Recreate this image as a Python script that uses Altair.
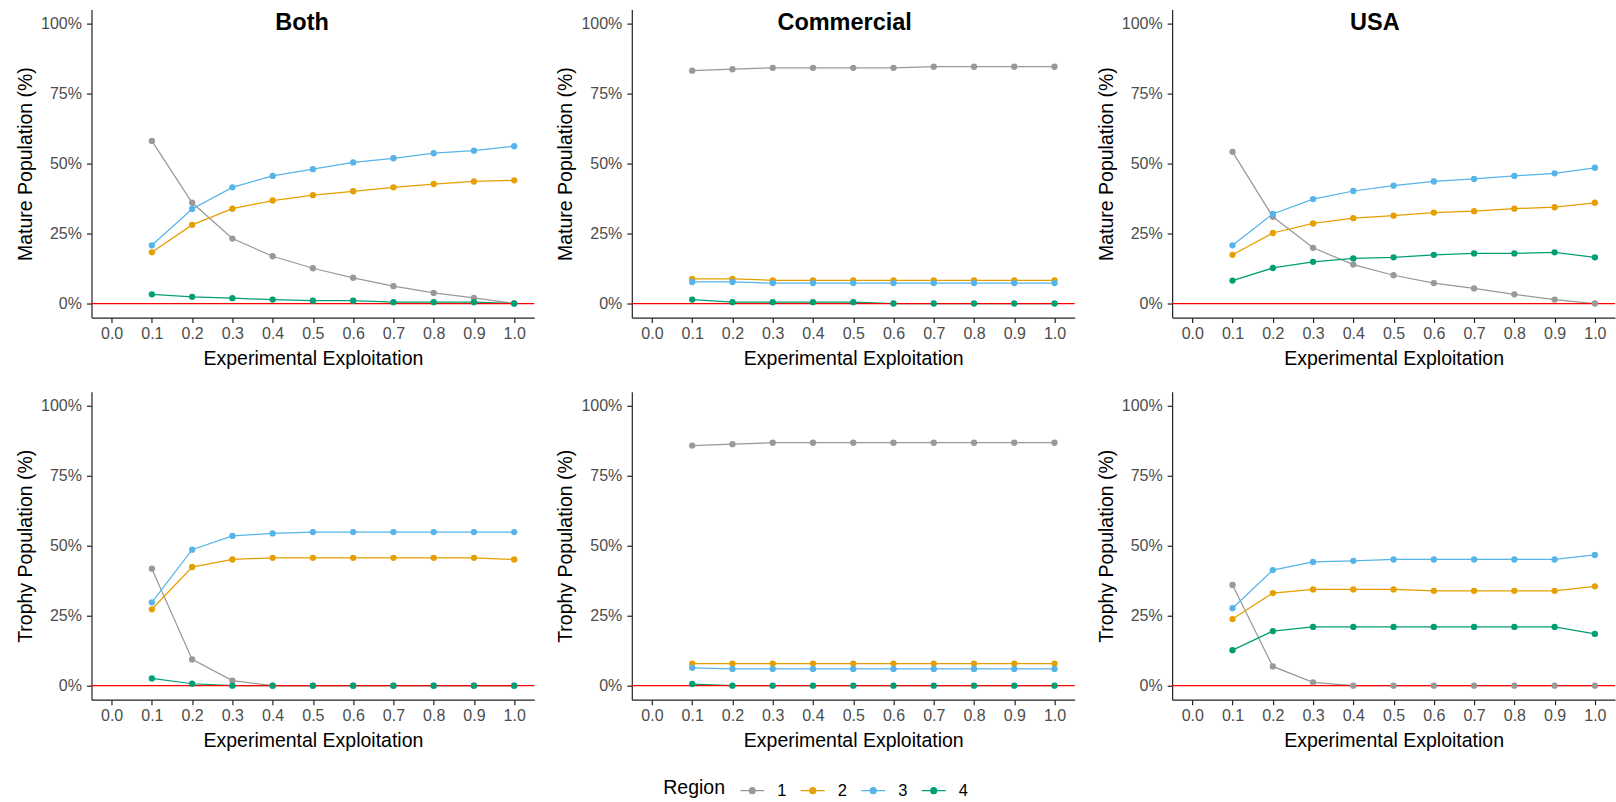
import altair as alt
import pandas as pd

# Experimental exploitation levels (x positions of every series)
exploitation = [0.1, 0.2, 0.3, 0.4, 0.5, 0.6, 0.7, 0.8, 0.9, 1.0]
x_ticks = [0.0, 0.1, 0.2, 0.3, 0.4, 0.5, 0.6, 0.7, 0.8, 0.9, 1.0]
y_ticks = [0.0, 0.25, 0.5, 0.75, 1.0]

regions = ["1", "2", "3", "4"]
region_colors = ["#999999", "#E69F00", "#56B4E9", "#009E73"]

scenarios = ["Both", "Commercial", "USA"]
metrics = ["Mature", "Trophy"]

# Share of the mature population found in each region
both_mature_r1 = [0.581, 0.360, 0.232, 0.169, 0.126, 0.092, 0.062, 0.038, 0.020, 0.000]
both_mature_r2 = [0.183, 0.281, 0.339, 0.368, 0.387, 0.401, 0.415, 0.427, 0.436, 0.440]
both_mature_r3 = [0.208, 0.338, 0.415, 0.456, 0.480, 0.504, 0.519, 0.537, 0.546, 0.562]
both_mature_r4 = [0.033, 0.024, 0.019, 0.014, 0.010, 0.010, 0.005, 0.005, 0.005, 0.000]

commercial_mature_r1 = [0.832, 0.837, 0.842, 0.842, 0.842, 0.842, 0.846, 0.846, 0.846, 0.846]
commercial_mature_r2 = [0.088, 0.088, 0.083, 0.083, 0.083, 0.083, 0.083, 0.083, 0.083, 0.083]
commercial_mature_r3 = [0.077, 0.077, 0.073, 0.073, 0.073, 0.073, 0.073, 0.073, 0.073, 0.073]
commercial_mature_r4 = [0.014, 0.005, 0.005, 0.005, 0.005, 0.000, 0.000, 0.000, 0.000, 0.000]

usa_mature_r1 = [0.542, 0.310, 0.199, 0.139, 0.101, 0.073, 0.054, 0.033, 0.014, 0.000]
usa_mature_r2 = [0.174, 0.252, 0.286, 0.305, 0.314, 0.325, 0.330, 0.339, 0.344, 0.360]
usa_mature_r3 = [0.208, 0.320, 0.373, 0.402, 0.421, 0.436, 0.445, 0.456, 0.465, 0.485]
usa_mature_r4 = [0.082, 0.127, 0.149, 0.161, 0.165, 0.174, 0.179, 0.179, 0.183, 0.165]

# Share of the trophy population found in each region
both_trophy_r1 = [0.418, 0.094, 0.018, 0.000, 0.000, 0.000, 0.000, 0.000, 0.000, 0.000]
both_trophy_r2 = [0.273, 0.424, 0.451, 0.457, 0.457, 0.457, 0.457, 0.457, 0.457, 0.451]
both_trophy_r3 = [0.298, 0.486, 0.535, 0.544, 0.549, 0.549, 0.549, 0.549, 0.549, 0.549]
both_trophy_r4 = [0.026, 0.007, 0.000, 0.000, 0.000, 0.000, 0.000, 0.000, 0.000, 0.000]

commercial_trophy_r1 = [0.858, 0.863, 0.868, 0.868, 0.868, 0.868, 0.868, 0.868, 0.868, 0.868]
commercial_trophy_r2 = [0.079, 0.079, 0.079, 0.079, 0.079, 0.079, 0.079, 0.079, 0.079, 0.079]
commercial_trophy_r3 = [0.064, 0.060, 0.060, 0.060, 0.060, 0.060, 0.060, 0.060, 0.060, 0.060]
commercial_trophy_r4 = [0.006, 0.000, 0.000, 0.000, 0.000, 0.000, 0.000, 0.000, 0.000, 0.000]

usa_trophy_r1 = [0.360, 0.069, 0.012, 0.000, 0.000, 0.000, 0.000, 0.000, 0.000, 0.000]
usa_trophy_r2 = [0.238, 0.331, 0.344, 0.344, 0.344, 0.339, 0.339, 0.339, 0.339, 0.355]
usa_trophy_r3 = [0.277, 0.413, 0.442, 0.446, 0.451, 0.451, 0.451, 0.451, 0.451, 0.467]
usa_trophy_r4 = [0.127, 0.195, 0.210, 0.210, 0.210, 0.210, 0.210, 0.210, 0.210, 0.185]

series = {
    ("Both", "Mature"): [both_mature_r1, both_mature_r2, both_mature_r3, both_mature_r4],
    ("Commercial", "Mature"): [commercial_mature_r1, commercial_mature_r2, commercial_mature_r3, commercial_mature_r4],
    ("USA", "Mature"): [usa_mature_r1, usa_mature_r2, usa_mature_r3, usa_mature_r4],
    ("Both", "Trophy"): [both_trophy_r1, both_trophy_r2, both_trophy_r3, both_trophy_r4],
    ("Commercial", "Trophy"): [commercial_trophy_r1, commercial_trophy_r2, commercial_trophy_r3, commercial_trophy_r4],
    ("USA", "Trophy"): [usa_trophy_r1, usa_trophy_r2, usa_trophy_r3, usa_trophy_r4],
}

FONT = "Liberation Sans"
PANEL_W = 443
PANEL_H = 308
# horizontal placement of each panel heading inside its plot area
heading_x = {"Both": 210.7, "Commercial": 212.9, "USA": 202.8}


def ring(r):
    return f"M{r},0A{r},{r},0,1,1,{-r},0A{r},{r},0,1,1,{r},0"


# legend symbol: a short line with a solid dot (concentric rings) in the middle
line_dot = "M-1,0L1,0" + ring(0.24) + ring(0.16) + ring(0.08)

legend = alt.Legend(
    title="Region",
    orient="none",
    direction="horizontal",
    legendX=572,
    legendY=768,
    titleOrient="left",
    titleAnchor="middle",
    titleBaseline="middle",
    titleFontSize=19.5,
    titleFontWeight="normal",
    titleColor="black",
    titlePadding=14,
    labelFontSize=16.5,
    labelColor="black",
    labelOffset=12,
    columnPadding=10.5,
    symbolType=line_dot,
    symbolSize=576,
    symbolStrokeWidth=1.3,
    padding=0,
)


def panel(scenario, metric):
    rows = []
    for region, values in zip(regions, series[(scenario, metric)]):
        for x, v in zip(exploitation, values):
            rows.append({"exploitation": x, "share": v, "region": region})
    data = pd.DataFrame(rows)

    x_enc = alt.X(
        "exploitation:Q",
        scale=alt.Scale(domain=[-0.05, 1.05], nice=False, zero=False),
        axis=alt.Axis(values=x_ticks, format=".1f", title="Experimental Exploitation"),
    )
    y_enc = alt.Y(
        "share:Q",
        scale=alt.Scale(domain=[-0.05, 1.05], nice=False, zero=False),
        axis=alt.Axis(values=y_ticks, format=".0%", title=f"{metric} Population (%)"),
    )

    base = alt.Chart(data).encode(x=x_enc, y=y_enc)
    lines = base.mark_line(strokeWidth=1.25).encode(
        color=alt.Color("region:N", scale=alt.Scale(domain=regions, range=region_colors),
                        legend=legend)
    )
    points = base.mark_circle(size=40, opacity=1).encode(
        fill=alt.Fill("region:N", scale=alt.Scale(domain=regions, range=region_colors),
                      legend=None)
    )
    zero = alt.Chart(pd.DataFrame({"share": [0.0]})).mark_rule(
        color="#FF0000", strokeWidth=1.2
    ).encode(y="share:Q")

    layers = [lines, zero, points]
    if metric == "Mature":
        heading = alt.Chart(pd.DataFrame({"label": [scenario]})).mark_text(
            font=FONT, fontSize=23.5, fontWeight="bold", color="black",
            align="center", baseline="alphabetic",
        ).encode(text="label:N", x=alt.value(heading_x[scenario]), y=alt.value(20.8))
        layers.append(heading)
    return alt.layer(*layers).properties(width=PANEL_W, height=PANEL_H)


charts = [panel(s, m) for m in metrics for s in scenarios]

chart = alt.concat(
    *charts, columns=3, spacing={"row": 74.3, "column": 97.5}, bounds="flush"
).properties(
    padding={"left": 15.5, "top": 9.5, "right": 0, "bottom": 0},
    background="white",
).configure(
    font=FONT
).configure_view(
    stroke="transparent",
    strokeWidth=0,
).configure_axis(
    grid=False,
    domainColor="#222222",
    domainWidth=1.2,
    tickColor="#222222",
    tickWidth=1.2,
    tickSize=5,
    labelColor="#4D4D4D",
    labelFont=FONT,
    labelFontSize=16,
    titleFont=FONT,
    titleFontSize=19.5,
    titleFontWeight="normal",
    titleColor="black",
    labelOverlap=False,
    labelFlush=False,
).configure_axisX(
    labelPadding=3,
    titlePadding=8,
).configure_axisY(
    labelPadding=5,
    titlePadding=5,
).configure_legend(
    labelFont=FONT,
    titleFont=FONT,
    titleFontSize=19.5,
    titleFontWeight="normal",
    titleColor="black",
    labelFontSize=16.5,
    labelColor="black",
)

chart.save("out.html", embed_options={"renderer": "svg", "actions": False})
